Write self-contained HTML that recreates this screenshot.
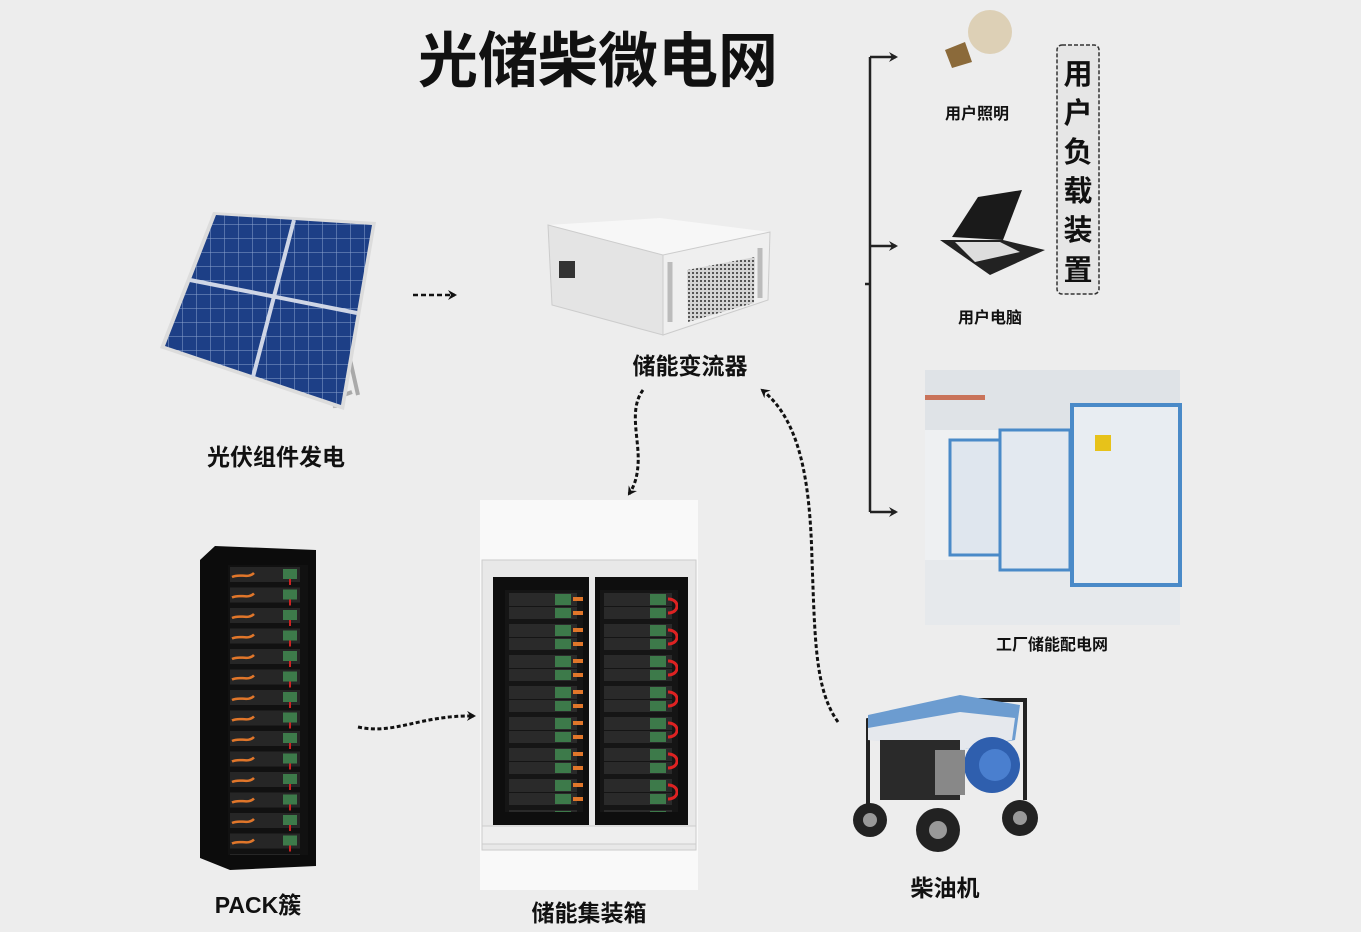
<!DOCTYPE html>
<html><head><meta charset="utf-8"><style>
html,body{margin:0;padding:0;background:#ededed;}
svg{display:block;}
text{font-family:"Liberation Sans","Noto Sans CJK SC",sans-serif;font-weight:bold;fill:#111;}
</style></head><body>
<svg width="1361" height="932" viewBox="0 0 1361 932" xmlns="http://www.w3.org/2000/svg">
<defs>
<marker id="ah" markerWidth="10" markerHeight="10" refX="7" refY="5" orient="auto" markerUnits="userSpaceOnUse"><path d="M0,0 L9,5 L0,10 L3,5 Z" fill="#111"/></marker>
<pattern id="solar" width="14" height="14" patternUnits="userSpaceOnUse"><rect width="14" height="14" fill="#1d3f86"/><path d="M0,0H14M0,0V14" stroke="#8aa3cf" stroke-width="1"/></pattern>
<pattern id="mesh" width="4" height="4" patternUnits="userSpaceOnUse"><rect width="4" height="4" fill="#d4d4d4"/><rect width="2" height="2" fill="#555"/></pattern>
<pattern id="modL" x="505" y="590" width="90" height="31" patternUnits="userSpaceOnUse"><rect width="90" height="31" fill="#151515"/><rect x="4" y="3" width="68" height="13" fill="#2a2a2a"/><rect x="4" y="17" width="68" height="12" fill="#2a2a2a"/><rect x="50" y="4" width="16" height="11" fill="#3d7a4a"/><rect x="50" y="18" width="16" height="10" fill="#3d7a4a"/><rect x="68" y="7" width="10" height="4" fill="#e0762a"/><rect x="68" y="21" width="10" height="4" fill="#e0762a"/></pattern>
<pattern id="modR" x="600" y="590" width="90" height="31" patternUnits="userSpaceOnUse"><rect width="90" height="31" fill="#151515"/><rect x="4" y="3" width="68" height="13" fill="#2a2a2a"/><rect x="4" y="17" width="68" height="12" fill="#2a2a2a"/><rect x="50" y="4" width="16" height="11" fill="#3d7a4a"/><rect x="50" y="18" width="16" height="10" fill="#3d7a4a"/><path d="M68,9 C80,9 80,23 68,23" stroke="#d22" stroke-width="3" fill="none"/></pattern>
<pattern id="pack" x="228" y="565" width="80" height="20.5" patternUnits="userSpaceOnUse"><rect width="80" height="20.5" fill="#111"/><rect x="2" y="2" width="70" height="15" fill="#262626"/><path d="M4,12 C12,8 20,14 26,8" stroke="#e0762a" stroke-width="2.5" fill="none"/><rect x="55" y="4" width="14" height="10" fill="#3d7a4a"/><path d="M62,14 V20" stroke="#c22" stroke-width="2"/></pattern>
</defs>

<text x="598" y="82" font-size="60" text-anchor="middle">光储柴微电网</text>

<!-- solar panel -->
<path d="M340,315 L358,395 M352,392 L330,400" stroke="#aaa" stroke-width="4" fill="none"/>
<path d="M330,320 L335,408" stroke="#bbb" stroke-width="4"/>
<polygon points="213,212 376,222 344,410 160,348" fill="#dcdcdc"/>
<polygon points="216,215 372,225 341,405 165,346" fill="url(#solar)"/>
<path d="M190,280 L357,313 M294,220 L253,377" stroke="#cfd6e6" stroke-width="4"/>
<text x="276" y="465" font-size="23" text-anchor="middle">光伏组件发电</text>

<path d="M413,295 H455" stroke="#111" stroke-width="2.5" stroke-dasharray="5,3" fill="none" marker-end="url(#ah)"/>

<!-- inverter -->
<polygon points="548,225 660,218 770,232 663,255" fill="#f7f7f7"/>
<polygon points="548,225 663,255 663,335 552,305" fill="#e4e4e4" stroke="#ccc"/>
<polygon points="663,255 770,232 768,300 663,335" fill="#efefef" stroke="#ccc"/>
<rect x="559" y="261" width="16" height="17" fill="#333"/>
<polygon points="687,270 755,257 754,303 688,322" fill="url(#mesh)"/>
<path d="M670,262 v60 M760,248 v50" stroke="#bbb" stroke-width="5"/>
<text x="690" y="374" font-size="23" text-anchor="middle">储能变流器</text>

<path d="M643,390 C628,410 640,440 638,465 C637,480 633,488 629,494" stroke="#111" stroke-width="3" stroke-dasharray="4,2.5" fill="none" marker-end="url(#ah)"/>

<!-- container -->
<rect x="480" y="500" width="218" height="390" fill="#f9f9f9"/>
<rect x="482" y="560" width="214" height="290" fill="#e8e8e8" stroke="#ccc"/>
<rect x="493" y="577" width="96" height="248" fill="#0e0e0e"/>
<rect x="595" y="577" width="93" height="248" fill="#0e0e0e"/>
<rect x="505" y="590" width="78" height="222" fill="url(#modL)"/>
<rect x="600" y="590" width="78" height="222" fill="url(#modR)"/>
<rect x="482" y="826" width="214" height="18" fill="#eee" stroke="#ccc"/>
<text x="589" y="921" font-size="23" text-anchor="middle">储能集装箱</text>

<!-- pack rack -->
<polygon points="200,560 215,546 316,550 316,866 230,870 200,858" fill="#0c0c0c"/>
<rect x="228" y="565" width="80" height="290" fill="url(#pack)"/>
<text x="258" y="913" font-size="23" text-anchor="middle">PACK簇</text>

<path d="M358,727 C395,735 420,715 474,716" stroke="#111" stroke-width="3" stroke-dasharray="4,2.5" fill="none" marker-end="url(#ah)"/>

<!-- generator -->
<path d="M868,830 V720 L960,700 H1025 V800" stroke="#222" stroke-width="4" fill="none"/>
<polygon points="868,715 960,695 1020,705 1015,740 960,750 868,735" fill="#6c9cd0"/>
<polygon points="868,728 960,712 1015,718 1012,740 960,750 868,740" fill="#e5e8ed"/>
<rect x="880" y="740" width="80" height="60" fill="#2a2a2a"/>
<circle cx="992" cy="765" r="28" fill="#2f5fae"/>
<circle cx="995" cy="765" r="16" fill="#4a7fcf"/>
<rect x="935" y="750" width="30" height="45" fill="#888"/>
<circle cx="870" cy="820" r="17" fill="#222"/><circle cx="870" cy="820" r="7" fill="#999"/>
<circle cx="938" cy="830" r="22" fill="#222"/><circle cx="938" cy="830" r="9" fill="#999"/>
<circle cx="1020" cy="818" r="18" fill="#222"/><circle cx="1020" cy="818" r="7" fill="#999"/>
<text x="945" y="896" font-size="23" text-anchor="middle">柴油机</text>

<path d="M838,722 C815,690 815,640 812,560 C810,480 800,420 762,390" stroke="#111" stroke-width="3" stroke-dasharray="4,2.5" fill="none" marker-end="url(#ah)"/>

<!-- bracket -->
<path d="M870,57 V512 M870,57 H896 M870,246 H896 M870,512 H896 M865,284 H870" stroke="#222" stroke-width="2.5" fill="none"/>
<path d="M889,52 L898,57 L889,62 L892,57Z M889,241 L898,246 L889,251 L892,246Z M889,507 L898,512 L889,517 L892,512Z" fill="#222"/>

<!-- bulb -->
<circle cx="990" cy="32" r="22" fill="#d8c8a8" opacity="0.8"/>
<polygon points="945,50 965,42 972,62 952,68" fill="#8b6a3a"/>
<text x="977" y="119" font-size="16" text-anchor="middle">用户照明</text>

<!-- laptop -->
<polygon points="952,237 978,197 1022,190 1003,240" fill="#1a1a1a"/>
<polygon points="940,240 1003,240 1045,250 990,275" fill="#222"/>
<polygon points="955,242 1000,242 1020,252 975,262" fill="#ddd"/>
<text x="990" y="323" font-size="16" text-anchor="middle">用户电脑</text>

<!-- user load box -->
<rect x="1057" y="45" width="42" height="249" rx="5" fill="#e6e6e6" stroke="#333" stroke-width="1.5" stroke-dasharray="4,2"/>
<g font-size="29" text-anchor="middle">
<text x="1078" y="84">用</text><text x="1078" y="123">户</text><text x="1078" y="162">负</text><text x="1078" y="201">载</text><text x="1078" y="240">装</text><text x="1078" y="280">置</text>
</g>

<!-- factory -->
<rect x="925" y="370" width="255" height="255" fill="#eef0f2"/>
<rect x="925" y="370" width="255" height="60" fill="#dfe3e7"/>
<rect x="925" y="395" width="60" height="5" fill="#c9735a"/>
<rect x="925" y="560" width="255" height="65" fill="#e6e9ec"/>
<rect x="950" y="440" width="50" height="115" fill="#dfe6ee" stroke="#4a8ac8" stroke-width="3"/>
<rect x="1000" y="430" width="70" height="140" fill="#e3e9f0" stroke="#4a8ac8" stroke-width="3"/>
<rect x="1072" y="405" width="108" height="180" fill="#e8edf2" stroke="#4a8ac8" stroke-width="4"/>
<rect x="1095" y="435" width="16" height="16" fill="#e7c21a"/>
<text x="1052" y="650" font-size="16" text-anchor="middle">工厂储能配电网</text>
</svg>
</body></html>
